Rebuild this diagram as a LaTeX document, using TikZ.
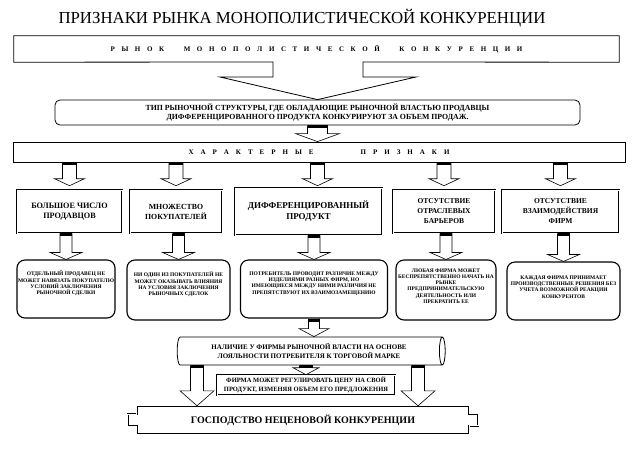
\documentclass[tikz,border=0pt]{standalone}
\usepackage{fontspec}
\setmainfont{Liberation Serif}
\usetikzlibrary{calc,shapes.geometric}

\tikzset{
  thinbox/.style={draw, line width=0.8pt, align=center, inner sep=1pt},
  featbox/.style={draw, double, double distance=0.9pt, line width=0.6pt, align=center,
    minimum height=43pt, inner sep=1pt, font=\bfseries\fontsize{8.2}{10}\selectfont},
  descbox/.style={draw, line width=1.1pt, rounded corners=8pt, align=center, inner sep=1pt,
    text depth=12pt, font=\bfseries\fontsize{5.5}{6.3}\selectfont},
  blockline/.style={draw, line width=0.6pt},
}

% block arrow: from, to, stem half width, head half width, head length
\newcommand{\blkarrow}[5]{%
  \draw[blockline] let \p1=(#1), \p2=(#2) in
    (\x1-#3,\y1) -- (\x1-#3,\y2+#5) -- (\x1-#4,\y2+#5) -- (\x1,\y2)
    -- (\x1+#4,\y2+#5) -- (\x1+#3,\y2+#5) -- (\x1+#3,\y1);
  \fill let \p1=(#1) in (\x1-#3,\y1) rectangle (\x1+#3,\y1-3pt);
}

\begin{document}
\begin{tikzpicture}[x=1pt,y=-1pt]
  \useasboundingbox (0,0) rectangle (637,456);

  \node[font=\fontsize{16.8}{18}\selectfont] (title) at (302,18)
    {ПРИЗНАКИ РЫНКА МОНОПОЛИСТИЧЕСКОЙ КОНКУРЕНЦИИ};

  \node[minimum width=605pt, minimum height=26pt, font=\bfseries\fontsize{7}{8}\selectfont]
    (market) at (316.5,49)
    {\spaceskip=6.6pt Р Ы Н О К\hspace{13pt} М О Н О П О Л И С Т И Ч Е С К О Й\hspace{13pt} К О Н К У Р Е Н Ц И И};

  \node[thinbox, rounded corners=5pt, minimum width=525pt, minimum height=25pt,
    font=\bfseries\fontsize{7.8}{9.5}\selectfont] (type) at (317.5,112.5)
    {ТИП РЫНОЧНОЙ СТРУКТУРЫ, ГДЕ ОБЛАДАЮЩИЕ РЫНОЧНОЙ ВЛАСТЬЮ ПРОДАВЦЫ\\
     ДИФФЕРЕНЦИРОВАННОГО ПРОДУКТА КОНКУРИРУЮТ ЗА ОБЪЕМ ПРОДАЖ.};

  \draw[line width=0.8pt] (market.north west) -- (market.north east) -- (market.south east)
    -- (363,62) -- (363,77) -- (416,77) -- (type.north) -- (220,77) -- (273,77) -- (273,62)
    -- (market.south west) -- cycle;

  \node[thinbox, minimum width=612pt, minimum height=20pt,
    font=\bfseries\fontsize{7}{8}\selectfont] (bar) at (319,152)
    {\spaceskip=7pt Х А Р А К Т Е Р Н Ы Е\hspace{40pt} П Р И З Н А К И};

  \blkarrow{type.south}{bar.north}{10pt}{22pt}{8pt}

  % characteristic features
  \node[featbox, minimum width=105pt] (f1) at (69.5,211.5) {БОЛЬШОЕ ЧИСЛО\\ПРОДАВЦОВ};
  \node[featbox, minimum width=92pt, font=\bfseries\fontsize{7.8}{10}\selectfont]
    (f2) at (176,211.5) {МНОЖЕСТВО\\ПОКУПАТЕЛЕЙ};
  \node[featbox, minimum width=147pt, minimum height=47pt,
    font=\bfseries\fontsize{9}{11}\selectfont] (f3) at (308.5,211.5) {ДИФФЕРЕНЦИРОВАННЫЙ\\ПРОДУКТ};
  \node[featbox, minimum width=102pt, font=\bfseries\fontsize{7.5}{10}\selectfont]
    (f4) at (444,211.5) {ОТСУТСТВИЕ\\ОТРАСЛЕВЫХ\\БАРЬЕРОВ};
  \node[featbox, minimum width=117pt, font=\bfseries\fontsize{7.5}{10}\selectfont]
    (f5) at (560.5,211.5) {ОТСУТСТВИЕ\\ВЗАИМОДЕЙСТВИЯ\\ФИРМ};

  \blkarrow{bar.south -| f1.north}{[yshift=4pt]f1.north}{7pt}{15pt}{7pt}
  \blkarrow{bar.south -| f2.north}{[yshift=4pt]f2.north}{7pt}{15pt}{7pt}
  \blkarrow{bar.south -| type.south}{[yshift=2pt]f3.north}{7pt}{15pt}{7pt}
  \blkarrow{bar.south -| f4.north}{[yshift=4pt]f4.north}{7pt}{15pt}{7pt}
  \blkarrow{bar.south -| f5.north}{[yshift=4pt]f5.north}{7pt}{15pt}{7pt}

  % explanations
  \node[descbox, minimum width=98pt, minimum height=58pt] (d1) at (66,289)
    {ОТДЕЛЬНЫЙ ПРОДАВЕЦ НЕ\\МОЖЕТ НАВЯЗАТЬ ПОКУПАТЕЛЮ\\УСЛОВИЙ ЗАКЛЮЧЕНИЯ\\РЫНОЧНОЙ СДЕЛКИ};
  \node[descbox, minimum width=103pt, minimum height=60pt] (d2) at (178.5,290)
    {НИ ОДИН ИЗ ПОКУПАТЕЛЕЙ НЕ\\МОЖЕТ ОКАЗЫВАТЬ ВЛИЯНИЯ\\НА УСЛОВИЯ ЗАКЛЮЧЕНИЯ\\РЫНОЧНЫХ СДЕЛОК};
  \node[descbox, minimum width=147pt, minimum height=58pt] (d3) at (314,289)
    {ПОТРЕБИТЕЛЬ ПРОВОДИТ РАЗЛИЧИЕ МЕЖДУ\\ИЗДЕЛИЯМИ РАЗНЫХ ФИРМ, НО\\ИМЕЮЩИЕСЯ МЕЖДУ НИМИ РАЗЛИЧИЯ НЕ\\ПРЕПЯТСТВУЮТ ИХ ВЗАИМОЗАМЕЩЕНИЮ};
  \node[descbox, minimum width=100pt, minimum height=60pt, text depth=8pt] (d4) at (446,290)
    {ЛЮБАЯ ФИРМА МОЖЕТ\\БЕСПРЕПЯТСТВЕННО НАЧАТЬ НА\\РЫНКЕ\\ПРЕДПРИНИМАТЕЛЬСКУЮ\\ДЕЯТЕЛЬНОСТЬ ИЛИ\\ПРЕКРАТИТЬ ЕЕ};
  \node[descbox, minimum width=113pt, minimum height=58pt, text depth=8pt] (d5) at (563.5,291)
    {КАЖДАЯ ФИРМА ПРИНИМАЕТ\\ПРОИЗВОДСТВЕННЫЕ РЕШЕНИЯ БЕЗ\\УЧЕТА ВОЗМОЖНОЙ РЕАКЦИИ\\КОНКУРЕНТОВ};

  \blkarrow{d1.north |- f1.south}{d1.north}{6pt}{16pt}{7pt}
  \blkarrow{d2.north |- f2.south}{d2.north}{6pt}{16pt}{7pt}
  \blkarrow{d3.north |- f3.south}{d3.north}{6pt}{16pt}{7pt}
  \blkarrow{d4.north |- f4.south}{d4.north}{6pt}{16pt}{7pt}
  \blkarrow{d5.north |- f5.south}{d5.north}{6pt}{16pt}{7pt}

  % market power
  \node[cylinder, draw, line width=0.8pt, aspect=0.35, minimum width=28pt, minimum height=268pt,
    align=center, inner sep=1pt, font=\bfseries\fontsize{7}{8.5}\selectfont] (scroll) at (309,351)
    {НАЛИЧИЕ У ФИРМЫ РЫНОЧНОЙ ВЛАСТИ НА ОСНОВЕ\\ЛОЯЛЬНОСТИ ПОТРЕБИТЕЛЯ К ТОРГОВОЙ МАРКЕ};

  \node[draw, double, double distance=0.8pt, line width=0.6pt, minimum width=178pt, minimum height=20pt,
    align=center, inner sep=1pt, font=\bfseries\fontsize{6.5}{8.5}\selectfont] (firm) at (306,385)
    {ФИРМА МОЖЕТ РЕГУЛИРОВАТЬ ЦЕНУ НА СВОЙ\\ПРОДУКТ, ИЗМЕНЯЯ ОБЪЕМ ЕГО ПРЕДЛОЖЕНИЯ};

  \node[minimum width=332pt, minimum height=28pt, font=\bfseries\fontsize{10}{12}\selectfont]
    (bottom) at (303,420) {ГОСПОДСТВО НЕЦЕНОВОЙ КОНКУРЕНЦИИ};
  \draw[double, double distance=0.9pt, line width=0.6pt] (bottom.north west) -- (bottom.north east)
    -- ++(0,8) -- ++(9,0) -- ++(0,12) -- ++(-9,0) -- (bottom.south east) -- (bottom.south west)
    -- ++(0,-8) -- ++(-9,0) -- ++(0,-12) -- ++(9,0) -- cycle;

  \blkarrow{d3.south}{scroll.north}{5.5pt}{15pt}{8pt}
  \blkarrow{scroll.south -| firm.north}{firm.north}{6.5pt}{13pt}{7pt}
  \blkarrow{[xshift=-112pt]scroll.south}{bottom.north}{6.5pt}{17pt}{15pt}
  \blkarrow{[xshift=109pt]scroll.south}{bottom.north}{6.5pt}{17pt}{15pt}
\end{tikzpicture}
\end{document}
